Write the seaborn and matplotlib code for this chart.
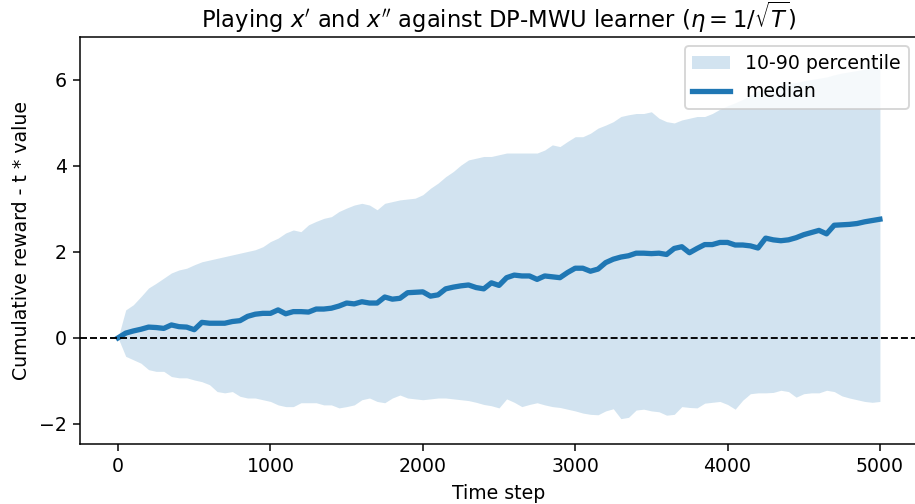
import numpy as np
import pandas as pd
import matplotlib
matplotlib.use("Agg")
import matplotlib.pyplot as plt
import seaborn as sns

# values every 50 time steps
steps = list(range(0, 5001, 50))

upper = [0.00, 0.65, 0.77, 0.96, 1.16, 1.27, 1.39, 1.51, 1.58, 1.62,
         1.70, 1.77, 1.81, 1.85, 1.89, 1.93, 1.97, 2.01, 2.05, 2.12,
         2.24, 2.32, 2.44, 2.51, 2.47, 2.63, 2.71, 2.78, 2.82, 2.94,
         3.02, 3.09, 3.13, 3.09, 2.98, 3.13, 3.17, 3.21, 3.23, 3.25,
         3.33, 3.48, 3.60, 3.75, 3.87, 4.02, 4.14, 4.18, 4.22, 4.22,
         4.26, 4.30, 4.30, 4.30, 4.30, 4.30, 4.37, 4.49, 4.45, 4.57,
         4.68, 4.68, 4.76, 4.88, 4.95, 5.03, 5.15, 5.19, 5.22, 5.22,
         5.26, 5.11, 5.03, 5.00, 5.07, 5.11, 5.15, 5.15, 5.22, 5.32,
         5.40, 5.47, 5.55, 5.65, 5.75, 5.80, 5.85, 5.88, 5.92, 5.94,
         5.98, 6.01, 6.04, 6.07, 6.12, 6.16, 6.19, 6.22, 6.25, 6.28,
         6.30]

lower = [0.00, -0.43, -0.51, -0.59, -0.74, -0.78, -0.78, -0.90, -0.93, -0.93,
         -0.98, -1.02, -1.09, -1.25, -1.28, -1.25, -1.36, -1.40, -1.40, -1.44,
         -1.48, -1.56, -1.60, -1.60, -1.51, -1.51, -1.51, -1.56, -1.56, -1.63,
         -1.60, -1.56, -1.44, -1.40, -1.48, -1.51, -1.40, -1.33, -1.40, -1.42,
         -1.44, -1.42, -1.40, -1.40, -1.42, -1.44, -1.46, -1.50, -1.55, -1.58,
         -1.63, -1.42, -1.50, -1.60, -1.55, -1.51, -1.56, -1.60, -1.62, -1.66,
         -1.70, -1.75, -1.78, -1.79, -1.70, -1.65, -1.88, -1.85, -1.68, -1.66,
         -1.70, -1.72, -1.80, -1.78, -1.60, -1.62, -1.63, -1.52, -1.50, -1.48,
         -1.55, -1.66, -1.45, -1.30, -1.28, -1.28, -1.27, -1.22, -1.25, -1.38,
         -1.30, -1.28, -1.28, -1.22, -1.25, -1.35, -1.40, -1.44, -1.48, -1.50,
         -1.48]

median = [0.00, 0.11, 0.16, 0.20, 0.25, 0.24, 0.22, 0.30, 0.26, 0.25,
          0.19, 0.36, 0.34, 0.34, 0.34, 0.38, 0.40, 0.50, 0.55, 0.57,
          0.57, 0.65, 0.56, 0.61, 0.61, 0.60, 0.67, 0.67, 0.69, 0.74,
          0.81, 0.79, 0.84, 0.81, 0.81, 0.95, 0.90, 0.92, 1.05, 1.06,
          1.07, 0.97, 1.00, 1.14, 1.18, 1.21, 1.23, 1.17, 1.14, 1.28,
          1.22, 1.40, 1.46, 1.44, 1.44, 1.36, 1.44, 1.42, 1.40, 1.52,
          1.62, 1.62, 1.55, 1.60, 1.75, 1.83, 1.88, 1.91, 1.97, 1.97,
          1.96, 1.97, 1.94, 2.08, 2.12, 1.98, 2.08, 2.17, 2.17, 2.22,
          2.22, 2.16, 2.16, 2.14, 2.09, 2.32, 2.28, 2.26, 2.28, 2.33,
          2.40, 2.45, 2.50, 2.42, 2.62, 2.63, 2.64, 2.66, 2.70, 2.73,
          2.76]

df = pd.DataFrame({"step": steps, "low": lower, "high": upper, "median": median})

DPI = 136
fig = plt.figure(figsize=(915 / DPI, 504 / DPI), dpi=DPI)
# right edge runs slightly past the canvas, as in the reference crop
ax = fig.add_axes([80 / 915, 60 / 504, 838 / 915, 407 / 504])

ax.fill_between(df["step"], df["low"], df["high"], color="C0", alpha=0.2,
                linewidth=0, label="10-90 percentile")
sns.lineplot(data=df, x="step", y="median", ax=ax, color="C0",
             linewidth=2.8, label="median")
ax.axhline(0, color="black", linestyle="--", linewidth=1.0)

ax.set_ylim(-2.47, 7.0)
ax.set_xlabel("Time step")
ax.set_ylabel("Cumulative reward - t * value")
ax.set_title(r"Playing $x'$ and $x''$ against DP-MWU learner ($\eta = 1/\sqrt{T}$)",
             pad=5)
ax.legend(loc="upper right")

fig.savefig("out.png", dpi=DPI)
